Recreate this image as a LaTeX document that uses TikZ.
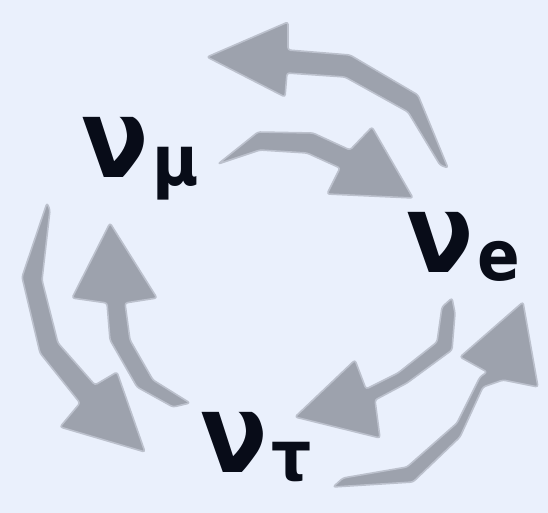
\documentclass[tikz,border=0pt]{standalone}
\usepackage{fontspec}
\setmainfont{DejaVu Sans}
\newfontfamily\labelfont{DejaVu Sans Condensed}[BoldFont={DejaVu Sans Condensed Bold}]
\definecolor{bgblue}{RGB}{234,240,252}
\definecolor{arrowgrey}{RGB}{157,162,173}
\definecolor{inkblack}{RGB}{8,12,24}
\newcommand{\flavour}[2]{{\labelfont\bfseries\fontsize{110}{110}\selectfont #1}\hspace{4pt}\raisebox{-8pt}{\labelfont\bfseries\fontsize{70}{70}\selectfont #2}}
\tikzset{
  swirl/.style={fill=arrowgrey, draw=arrowgrey!60!bgblue, line width=1.6pt, rounded corners=2.5pt, line join=round},
  flav/.style={anchor=base west, inner sep=0pt, text=inkblack}
}
\begin{document}
\begin{tikzpicture}[x=1pt, y=-1pt]
\fill[bgblue] (0,0) rectangle (548,513);
\useasboundingbox (0,0) rectangle (548,513);

% top arrow: nu_e -> nu_mu (pointing left)
\fill[swirl] (207,57) -- (288,22) -- (288,50) -- (350,55) -- (418,95) -- (448,168)
  -- (440,165) -- (408,112) -- (345,77) -- (287,73) -- (285,97) -- cycle;
% nu_mu -> nu_e
\fill[swirl] (218,164) -- (258,132) -- (313,133) -- (350,150) -- (372,127) -- (413,198)
  -- (327,194) -- (340,168) -- (307,153) -- (260,150) -- cycle;
% nu_e -> nu_tau (inner)
\fill[swirl] (452,298) -- (455,313) -- (452,350) -- (407,383) -- (375,400) -- (380,438)
  -- (295,417) -- (355,360) -- (366,389) -- (398,373) -- (437,342) -- (442,307) -- cycle;
% nu_tau -> nu_e (outer)
\fill[swirl] (333,487) -- (343,478) -- (407,467) -- (457,423) -- (480,377) -- (487,372)
  -- (460,357) -- (523,302) -- (538,387) -- (503,380) -- (483,387) -- (460,437) -- (413,482) -- cycle;
% nu_mu -> nu_tau (outer left)
\fill[swirl] (47,203) -- (50,210) -- (42,280) -- (58,343) -- (95,385) -- (117,372)
  -- (145,452) -- (60,427) -- (80,403) -- (40,353) -- (22,277) -- cycle;
% nu_tau -> nu_mu (inner left)
\fill[swirl] (110,223) -- (157,298) -- (125,303) -- (130,340) -- (153,380) -- (190,403)
  -- (173,407) -- (137,387) -- (110,340) -- (107,303) -- (72,298) -- cycle;

\node[flav] (numu) at (81,178) {\flavour{ν}{μ}};
\node[flav] (nue) at (406,272) {\flavour{ν}{e}};
\node[flav] (nutau) at (200,472) {\flavour{ν}{τ}};
\end{tikzpicture}
\end{document}
